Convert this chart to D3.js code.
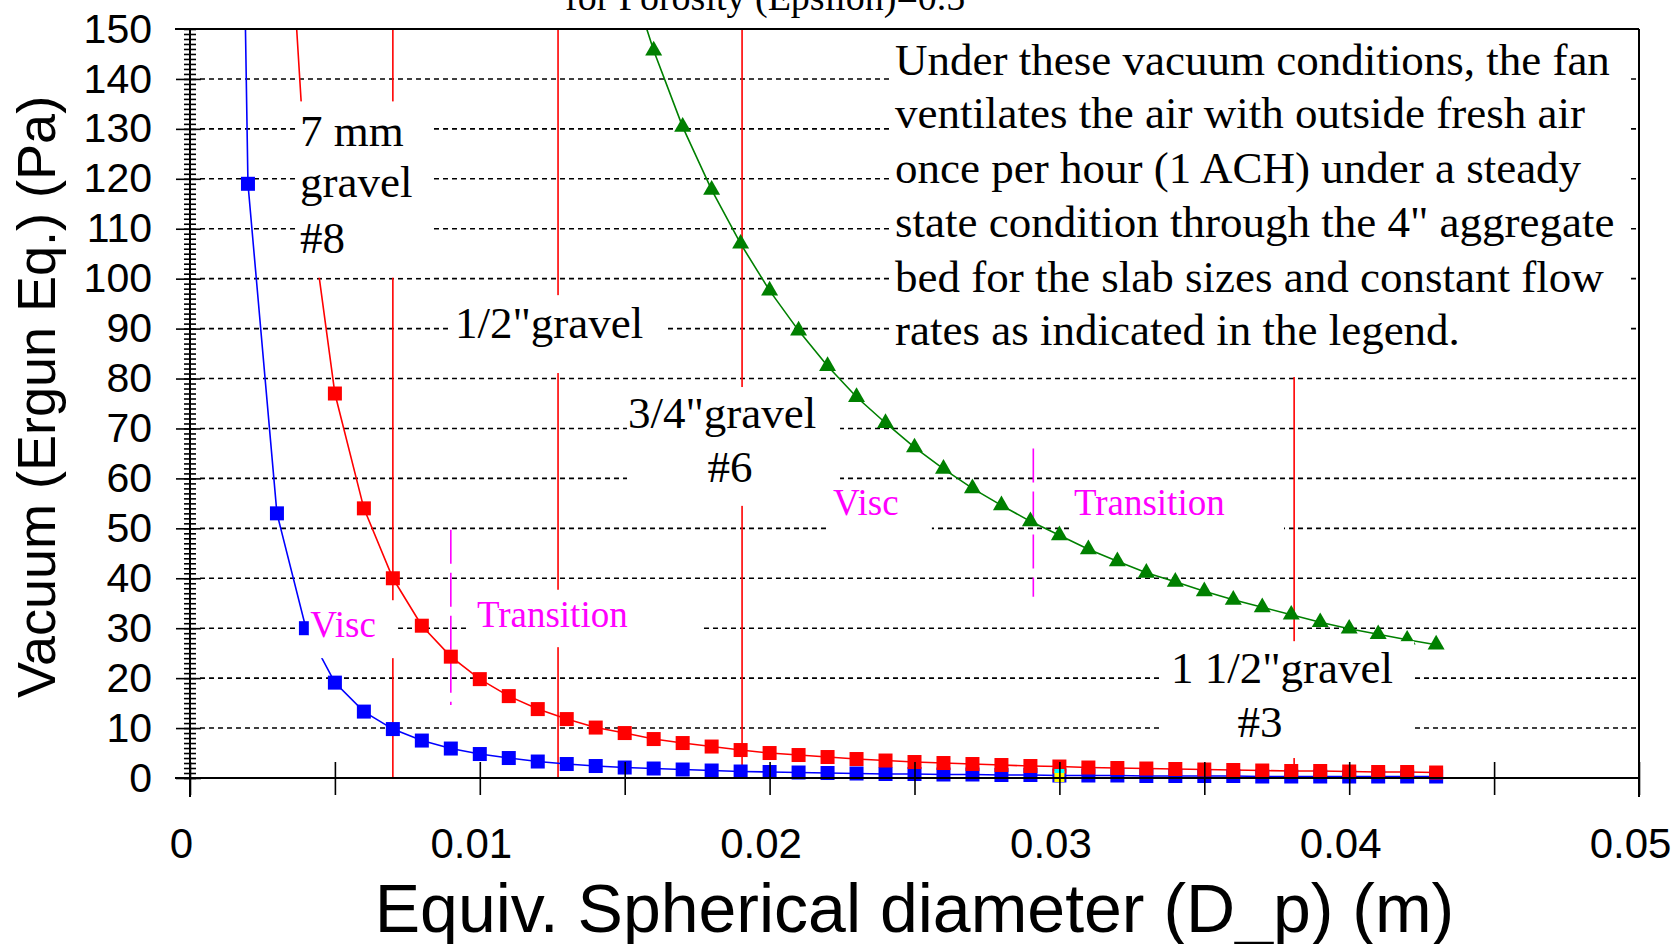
<!DOCTYPE html>
<html>
<head>
<meta charset="utf-8">
<script src="https://cdnjs.cloudflare.com/ajax/libs/d3/7.8.5/d3.min.js"></script>
<style>
html, body { margin: 0; padding: 0; background: #fff; overflow: hidden; }
</style>
</head>
<body>
<div id="chart"></div>
<script>
// equivalent spherical diameter (m) and vacuum (Pa) for each curve
var dpBlue = [0.001, 0.002, 0.003, 0.004, 0.005, 0.006, 0.007, 0.008, 0.009, 0.010,
              0.011, 0.012, 0.013, 0.014, 0.015, 0.016, 0.017, 0.018, 0.019, 0.020,
              0.021, 0.022, 0.023, 0.024, 0.025, 0.026, 0.027, 0.028, 0.029, 0.030,
              0.031, 0.032, 0.033, 0.034, 0.035, 0.036, 0.037, 0.038, 0.039, 0.040,
              0.041, 0.042, 0.043];
var vacBlue = [478, 119, 53, 30, 19.1, 13.3, 9.8, 7.5, 5.9, 4.8,
               4.0, 3.3, 2.8, 2.4, 2.1, 1.9, 1.7, 1.5, 1.3, 1.2,
               1.1, 1.0, 0.9, 0.8, 0.8, 0.7, 0.7, 0.6, 0.6, 0.5,
               0.5, 0.5, 0.4, 0.4, 0.4, 0.4, 0.3, 0.3, 0.3, 0.3,
               0.3, 0.3, 0.3];

var dpRed = [0.003, 0.004, 0.005, 0.006, 0.007, 0.008, 0.009, 0.010,
             0.011, 0.012, 0.013, 0.014, 0.015, 0.016, 0.017, 0.018, 0.019, 0.020,
             0.021, 0.022, 0.023, 0.024, 0.025, 0.026, 0.027, 0.028, 0.029, 0.030,
             0.031, 0.032, 0.033, 0.034, 0.035, 0.036, 0.037, 0.038, 0.039, 0.040,
             0.041, 0.042, 0.043];
var vacRed = [214, 120, 77, 54, 40, 30.5, 24.3, 19.8,
              16.4, 13.8, 11.8, 10.1, 9.0, 7.8, 7.0, 6.3, 5.6, 5.0,
              4.6, 4.2, 3.8, 3.5, 3.2, 3.0, 2.8, 2.6, 2.4, 2.3,
              2.1, 2.0, 1.9, 1.8, 1.7, 1.6, 1.5, 1.4, 1.4, 1.3,
              1.2, 1.2, 1.1];

var dpGreen = [0.015, 0.016, 0.017, 0.018, 0.019, 0.020,
               0.021, 0.022, 0.023, 0.024, 0.025, 0.026, 0.027, 0.028, 0.029, 0.030,
               0.031, 0.032, 0.033, 0.034, 0.035, 0.036, 0.037, 0.038, 0.039, 0.040,
               0.041, 0.042, 0.043];
var vacGreen = [163.7, 145.7, 130.4, 117.8, 107.0, 97.6,
                89.6, 82.5, 76.3, 71.1, 66.2, 61.9, 58.0, 54.6, 51.4, 48.6,
                45.8, 43.4, 41.1, 39.3, 37.4, 35.7, 34.2, 32.7, 31.2, 29.9,
                28.8, 27.7, 26.7];

// lone point sitting on the axis at 0.03
var dpOdd = [0.030];
var vacOdd = [0.2];

// gravel sizes (red verticals) and regime boundaries (magenta)
var gravelDp = [0.007, 0.0127, 0.01905, 0.0381];
var regimeDp = [0.009, 0.0291];
var regimeTop = [49.7, 66.0];
var regimeBot = [14.6, 36.3];

var xMajor = [0, 0.01, 0.02, 0.03, 0.04, 0.05];
var xMinor = [0, 0.005, 0.01, 0.015, 0.02, 0.025, 0.03, 0.035, 0.04, 0.045, 0.05];
var yMajor = [0, 10, 20, 30, 40, 50, 60, 70, 80, 90, 100, 110, 120, 130, 140, 150];
var yGrid = [10, 20, 30, 40, 50, 60, 70, 80, 90, 100, 110, 120, 130, 140];

var titleText = "for Porosity (Epsilon)=0.5";
var xTitle = "Equiv. Spherical diameter (D_p) (m)";
var yTitle = "Vacuum (Ergun Eq.) (Pa)";
var noteLines = ["Under these vacuum conditions, the fan",
                 "ventilates the air with outside fresh air",
                 "once per hour (1 ACH) under a steady",
                 "state condition through the 4\" aggregate",
                 "bed for the slab sizes and constant flow",
                 "rates as indicated in the legend."];

var W = 1680, H = 944;
var serif = "'Liberation Serif', 'Times New Roman', serif";
var sans = "'Liberation Sans', Arial, sans-serif";

var x = d3.scaleLinear().domain([0, 0.05]).range([190, 1639]);
var y = d3.scaleLinear().domain([0, 150]).range([778, 29]);

var svg = d3.select("#chart").append("svg")
    .attr("width", W)
    .attr("height", H);

svg.append("defs").append("clipPath").attr("id", "plotclip")
  .append("rect")
    .attr("x", x(0)).attr("y", y(150))
    .attr("width", x(0.05) - x(0)).attr("height", y(0) - y(150) + 20);

// dashed grid
svg.append("g").selectAll("line").data(yGrid).enter().append("line")
    .attr("x1", x(0) + 10).attr("x2", x(0.05))
    .attr("y1", function(d) { return y(d); })
    .attr("y2", function(d) { return y(d); })
    .attr("stroke", "#000").attr("stroke-width", 1.6)
    .attr("stroke-dasharray", "5,4");

var plot = svg.append("g").attr("clip-path", "url(#plotclip)");

plot.selectAll(".gravel").data(gravelDp).enter().append("line")
    .attr("class", "gravel")
    .attr("x1", function(d) { return x(d); })
    .attr("x2", function(d) { return x(d); })
    .attr("y1", y(150)).attr("y2", y(0))
    .attr("stroke", "#ff0000").attr("stroke-width", 1.6);

plot.selectAll(".regime").data(regimeDp).enter().append("line")
    .attr("class", "regime")
    .attr("x1", function(d) { return x(d); })
    .attr("x2", function(d) { return x(d); })
    .attr("y1", function(d, i) { return y(regimeTop[i]); })
    .attr("y2", function(d, i) { return y(regimeBot[i]); })
    .attr("stroke", "#ff00ff").attr("stroke-width", 1.6)
    .attr("stroke-dasharray", "34,9");

var line = d3.line()
    .x(function(d) { return x(d[0]); })
    .y(function(d) { return y(d[1]); });

var series = [
    {dp: dpBlue, vac: vacBlue, color: "#0000ff", shape: "square"},
    {dp: dpRed, vac: vacRed, color: "#ff0000", shape: "square"},
    {dp: dpGreen, vac: vacGreen, color: "#008000", shape: "triangle"}
];

series.forEach(function(s) {
    var pts = s.dp.map(function(d, i) { return [d, s.vac[i]]; });
    plot.append("path")
        .datum(pts)
        .attr("d", line)
        .attr("fill", "none")
        .attr("stroke", s.color)
        .attr("stroke-width", 1.6);
});

series.forEach(function(s) {
    var pts = s.dp.map(function(d, i) { return [d, s.vac[i]]; });
    if (s.shape == "square") {
        plot.selectAll(null).data(pts).enter().append("rect")
            .attr("x", function(d) { return x(d[0]) - 7; })
            .attr("y", function(d) { return y(d[1]) - 7; })
            .attr("width", 14).attr("height", 14)
            .attr("fill", s.color);
    } else {
        var tri = d3.symbol().type(d3.symbolTriangle).size(125);
        plot.selectAll(null).data(pts).enter().append("path")
            .attr("d", tri)
            .attr("transform", function(d) { return "translate(" + x(d[0]) + "," + y(d[1]) + ")"; })
            .attr("fill", s.color);
    }
});

plot.selectAll(null).data(dpOdd).enter().append("rect")
    .attr("x", function(d) { return x(d) - 5; })
    .attr("y", function(d, i) { return y(vacOdd[i]) - 6; })
    .attr("width", 10).attr("height", 11)
    .attr("fill", "#ffff00");
plot.selectAll(null).data(dpOdd).enter().append("rect")
    .attr("x", function(d) { return x(d) - 5; })
    .attr("y", function(d, i) { return y(vacOdd[i]) - 8; })
    .attr("width", 10).attr("height", 4)
    .attr("fill", "#00ffff");

// text boxes, placed in data units: box = [x0, yTop, x1, yBottom]
var notes = [
    {box: [0.0037, 135.5, 0.0083, 100.2], size: 45, color: "#000",
     lines: [["7 mm", 0.0038, 126.6, "start"], ["gravel", 0.0038, 116.4, "start"], ["#8", 0.0038, 105.1, "start"]]},
    {box: [0.0041, 35.6, 0.00718, 24.0], size: 37, color: "#ff00ff",
     lines: [["Visc", 0.00415, 28.2, "start"]]},
    {box: [0.00904, 96.7, 0.01639, 81.1], size: 45, color: "#000",
     lines: [["1/2\"gravel", 0.00914, 88.1, "start"]]},
    {box: [0.00956, 37.7, 0.0176, 26.2], size: 37, color: "#ff00ff",
     lines: [["Transition", 0.0099, 30.2, "start"]]},
    {box: [0.01508, 78.3, 0.02243, 54.5], size: 45, color: "#000",
     lines: [["3/4\"gravel", 0.01511, 70.1, "start"], ["#6", 0.01863, 59.3, "middle"]]},
    {box: [0.02208, 58.7, 0.0256, 48.7], size: 37, color: "#ff00ff",
     lines: [["Visc", 0.02219, 52.7, "start"]]},
    {box: [0.03043, 58.7, 0.03775, 48.7], size: 37, color: "#ff00ff",
     lines: [["Transition", 0.0305, 52.7, "start"]]},
    {box: [0.03347, 27.4, 0.04224, 4.0], size: 45, color: "#000",
     lines: [["1 1/2\"gravel", 0.03385, 19.0, "start"], ["#3", 0.03692, 8.2, "middle"]]}
];

var noteBaselines = [140.8, 130.2, 119.2, 108.3, 97.3, 86.7];
notes.push({box: [0.02419, 149.8, 0.04972, 80.3], size: 45, color: "#000",
    lines: noteLines.map(function(t, i) { return [t, 0.02433, noteBaselines[i], "start"]; })});

var ng = svg.append("g");
notes.forEach(function(n) {
    ng.append("rect")
        .attr("x", x(n.box[0])).attr("y", y(n.box[1]))
        .attr("width", x(n.box[2]) - x(n.box[0]))
        .attr("height", y(n.box[3]) - y(n.box[1]))
        .attr("fill", "#fff");
    n.lines.forEach(function(l) {
        ng.append("text")
            .attr("x", x(l[1])).attr("y", y(l[2]))
            .attr("text-anchor", l[3])
            .style("font-family", serif)
            .style("font-size", n.size + "px")
            .attr("fill", n.color)
            .text(l[0]);
    });
});

// axes
var yTicks = svg.append("g").attr("transform", "translate(" + (x(0) + 11) + ",0)")
    .call(d3.axisLeft(y).tickValues(yMajor.slice(0, -1)).tickSize(25).tickFormat(""));
var yMinor = svg.append("g").attr("transform", "translate(" + (x(0) + 6) + ",0)")
    .call(d3.axisLeft(y).ticks(150).tickSize(12).tickFormat(""));
var yLabels = svg.append("g").attr("transform", "translate(" + x(0) + ",0)")
    .call(d3.axisLeft(y).tickValues(yMajor).tickSize(0).tickPadding(38).tickFormat(d3.format("d")));

var xTicks = svg.append("g").attr("transform", "translate(0," + (y(0) - 16) + ")")
    .call(d3.axisBottom(x).tickValues(xMinor).tickSize(33).tickFormat(""));
var xLabels = svg.append("g").attr("transform", "translate(0," + y(0) + ")")
    .call(d3.axisBottom(x).tickValues(xMajor).tickSize(0).tickFormat(function(d) { return d3.format("")(+d.toFixed(2)); }));

[yTicks, yMinor, yLabels, xTicks, xLabels].forEach(function(a) {
    a.select(".domain").remove();
    a.selectAll("line").attr("stroke", "#000").attr("stroke-width", 1.6);
});
yLabels.selectAll("text")
    .style("font-family", sans).style("font-size", "41px").attr("fill", "#000");
xLabels.selectAll("text")
    .attr("y", 80).attr("dy", 0).attr("dx", -9)
    .style("font-family", sans).style("font-size", "42px").attr("fill", "#000");

// frame
var frame = svg.append("g").attr("stroke", "#000").attr("stroke-width", 2);
frame.append("line").attr("x1", x(0)).attr("x2", x(0)).attr("y1", y(150)).attr("y2", y(0) + 19);
frame.append("line").attr("x1", x(0) - 15).attr("x2", x(0.05)).attr("y1", y(0)).attr("y2", y(0));
frame.append("line").attr("x1", x(0) - 15).attr("x2", x(0.05)).attr("y1", y(150)).attr("y2", y(150));
frame.append("line").attr("x1", x(0.05)).attr("x2", x(0.05)).attr("y1", y(150)).attr("y2", y(0) + 19);

// titles
svg.append("text")
    .attr("x", 565).attr("y", 10)
    .style("font-family", serif).style("font-size", "38px")
    .text(titleText);

svg.append("text")
    .attr("x", (x(0) + x(0.05)) / 2).attr("y", 932)
    .attr("text-anchor", "middle")
    .style("font-family", sans).style("font-size", "68px")
    .text(xTitle);

svg.append("text")
    .attr("transform", "translate(55,397) rotate(-90)")
    .attr("text-anchor", "middle")
    .style("font-family", sans).style("font-size", "54px")
    .text(yTitle);
</script>
</body>
</html>
